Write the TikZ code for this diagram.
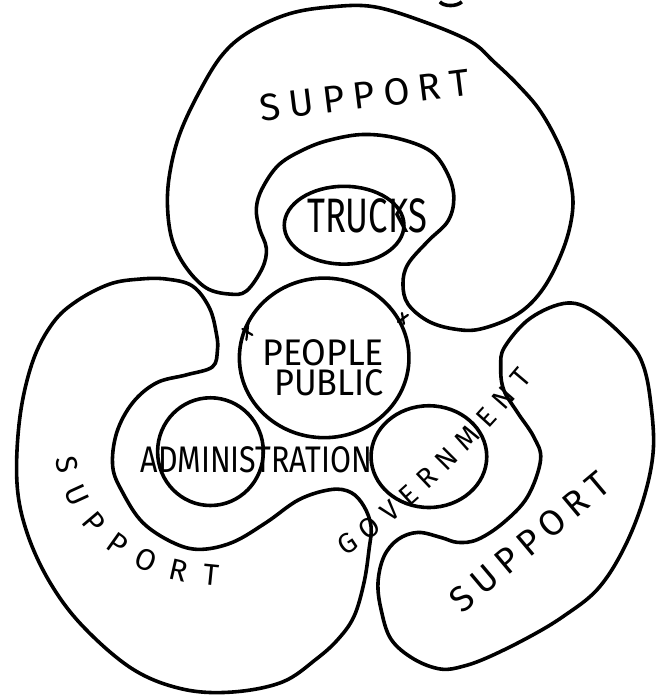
\documentclass[tikz,border=0pt]{standalone}
\usepackage{fontspec}
\usepackage{graphicx}
\usetikzlibrary{decorations.text}
\newfontfamily\handfont{Fira Sans}
\newcommand{\handtext}[3]{\resizebox{#1}{#2}{\handfont #3}}
\newcommand{\handsize}[1]{\handfont\fontsize{#1}{#1}\selectfont}

\begin{document}
\begin{tikzpicture}[
  x=0.5pt, y=-0.5pt,
  outline/.style={draw=black, line width=1.8pt, line join=round},
  pen/.style={draw=black, line width=1.1pt, line cap=round},
  label text/.style={inner sep=0pt, text=black},
  along/.style={decorate, decoration={text along path, text align={fit to path}}}
]
\path[fill=white] (0,0) rectangle (665,699);

% Upper support ring round the trucks.
\draw[outline] plot[smooth cycle, tension=0.6] coordinates {
  (230,293) (207,287) (187,267) (173,240) (168,207) (170,173) (180,133)
  (200,90) (223,53) (250,30) (290,12) (333,5) (375,5) (425,20) (472,40)
  (495,60) (519,83) (542,110) (562,147) (572,180) (574,210) (565,247)
  (545,287) (519,313) (482,328) (455,328) (429,320) (409,303) (404,283)
  (409,263) (429,240) (449,220) (455,197) (449,173) (432,150) (399,137)
  (365,133) (333,138) (307,147) (280,163) (263,187) (257,207) (260,227)
  (267,247) (263,267) (247,290)};

% Lower left support ring round the administration.
\draw[outline] plot[smooth cycle, tension=0.6] coordinates {
  (167,278) (193,285) (210,307) (217,333) (218,349) (213,366) (187,374)
  (157,382) (133,402) (117,432) (113,466) (123,492) (143,522) (173,542)
  (200,549) (233,542) (267,522) (300,499) (332,489) (352,492) (365,506)
  (372,526) (370,549) (365,582) (355,616) (339,639) (317,659) (283,682)
  (233,692) (183,689) (133,669) (83,626) (50,582) (27,532) (17,482)
  (20,416) (33,360) (53,322) (77,300) (110,283) (140,278)};

% Lower right support ring round the government.
\draw[outline] plot[smooth cycle, tension=0.6] coordinates {
  (569,302) (599,313) (632,343) (645,365) (652,399) (655,449) (645,499)
  (625,549) (599,589) (565,616) (532,636) (492,656) (465,666) (442,669)
  (415,659) (392,639) (382,609) (379,582) (385,556) (399,539) (419,532)
  (442,537) (459,542) (479,539) (505,522) (529,496) (542,459) (535,436)
  (519,412) (505,389) (502,366) (506,346) (532,317)};

% Inner circles.
\draw[outline] (345,224) ellipse [x radius=60, y radius=39];
\draw[outline] (325,357) ellipse [x radius=85, y radius=80];
\draw[outline] (211,451) ellipse [x radius=53, y radius=54];
\draw[outline] (430,456) ellipse [x radius=58, y radius=51];

% Small pen marks.
\draw[pen] (243,328) -- (253,334);
\draw[pen] (249,322) -- (247,339);
\draw[pen] (399,321) -- (409,314);
\draw[pen] (403,312) -- (405,323);
\draw[outline] (441,0) .. controls (445,5) and (458,5) .. (463,0);

% Labels.
\node[label text] (trucks) at (368,215) {\handtext{60pt}{17pt}{TRUCKS}};
\node[label text] (people) at (324,352) {\handtext{61pt}{13pt}{PEOPLE}};
\node[label text] (public) at (330,382) {\handtext{55pt}{13pt}{PUBLIC}};
\node[label text] (admin) at (257,459) {\handtext{116pt}{13pt}{ADMINISTRATION}};

\path[along, decoration={text={|\handsize{19pt}|SUPPORT}}]
  (262,120) -- (472,94);
\path[along, decoration={text={|\handsize{15pt}|SUPPORT}}]
  (56,458) .. controls (64,522) and (112,578) .. (218,586);
\path[along, decoration={text={|\handsize{18pt}|SUPPORT}}]
  (464,614) -- (614,488);
\path[along, decoration={text={|\handsize{14pt}|GOVERNMENT}}]
  (346,556) .. controls (400,522) and (472,452) .. (534,378);
\end{tikzpicture}
\end{document}
